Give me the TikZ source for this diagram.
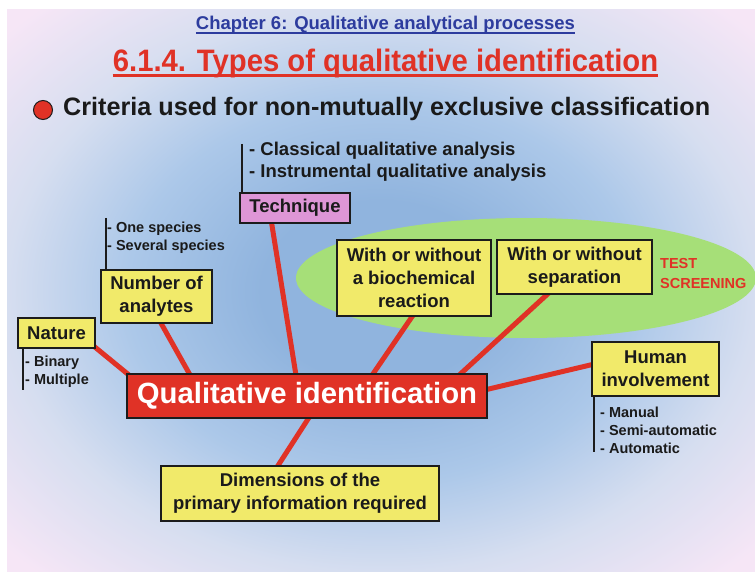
\documentclass[tikz,border=0pt]{standalone}
\usepackage{fontspec}
\setmainfont{Liberation Sans}
\usetikzlibrary{calc}
\definecolor{bgA}{RGB}{144,180,222}
\definecolor{bgB}{RGB}{172,200,233}
\definecolor{bgC}{RGB}{214,222,240}
\definecolor{bgD}{RGB}{246,230,246}
\definecolor{boxyellow}{RGB}{241,234,106}
\definecolor{boxpink}{RGB}{222,150,214}
\definecolor{qred}{RGB}{224,50,38}
\definecolor{ellgreen}{RGB}{166,223,120}
\definecolor{hblue}{RGB}{45,60,158}
\definecolor{txt}{RGB}{26,26,26}
\definecolor{boxline}{RGB}{28,28,28}
\pgfdeclareradialshading{slidebg}{\pgfpoint{0bp}{0bp}}{color(0bp)=(bgA); color(8bp)=(bgA); color(17bp)=(bgB); color(25bp)=(bgC); color(34bp)=(bgD); color(50bp)=(bgD)}
\pgfdeclarelayer{bg}
\pgfdeclarelayer{lines}
\pgfsetlayers{bg,lines,main}
\tikzset{
  box/.style={draw=boxline, line width=2.6pt, fill=boxyellow, text=txt,
    font=\fontsize{18.5}{23}\selectfont\bfseries, align=center, inner sep=0pt},
  conn/.style={draw=qred, line width=5pt},
  listtxt/.style={text=txt, font=\fontsize{14.5}{18}\selectfont\bfseries, inner sep=0pt, anchor=base west},
  biglist/.style={text=txt, font=\fontsize{18.5}{22}\selectfont\bfseries, inner sep=0pt, anchor=base west},
  bar/.style={draw=boxline, line width=2pt},
}
\begin{document}
\begin{tikzpicture}[x=1pt,y=-1pt]
\useasboundingbox (0,0) rectangle (755,572);
\begin{pgfonlayer}{bg}
  \shade[shading=slidebg] (7,10) rectangle (755,572);
  \fill[ellgreen] (526,278) ellipse [x radius=230, y radius=60];
\end{pgfonlayer}

% header
\node[font=\fontsize{18.5}{22}\selectfont\bfseries, text=hblue, inner sep=0pt, anchor=base] (chap) at (385.5,30) {Chapter 6: Qualitative analytical processes};
\draw[hblue, line width=2pt] ([yshift=-3pt]chap.base west) -- ([yshift=-3pt]chap.base east);
\node[font=\fontsize{31}{36}\selectfont\bfseries, text=qred, inner sep=0pt, anchor=base] (title) at (385.5,72) {\scalebox{0.944}[1]{6.1.4. Types of qualitative identification}};
\draw[qred, line width=3pt] ([yshift=-3.5pt]title.base west) -- ([yshift=-3.5pt]title.base east);
\node[circle, fill=qred, draw=boxline, line width=1pt, minimum size=19pt, inner sep=0pt] (bullet) at (43,110) {};
\node[font=\fontsize{25.2}{30}\selectfont\bfseries, text=txt, inner sep=0pt, anchor=base west] (crit) at (63,116) {Criteria used for non-mutually exclusive classification};

% boxes
\node[box, fill=boxpink, minimum width=110pt, minimum height=30pt] (tech) at (295,208) {Technique};
\node[box, minimum width=111pt, minimum height=53pt] (num) at (156.5,296.5) {Number of\\analytes};
\node[box, minimum width=77pt, minimum height=30pt] (nature) at (56.5,333) {Nature};
\node[box, fill=qred, text=white, font=\fontsize{29.3}{34}\selectfont\bfseries, minimum width=360pt, minimum height=44pt] (qual) at (307,396) {Qualitative identification};
\node[box, minimum width=154pt, minimum height=76pt] (bio) at (414,278) {With or without\\a biochemical\\reaction};
\node[box, minimum width=155pt, minimum height=54pt] (sep) at (574.5,267) {With or without\\separation};
\node[box, minimum width=127pt, minimum height=54pt] (human) at (655.5,369) {Human\\involvement};
\node[box, minimum width=278pt, minimum height=55pt] (dim) at (300,493.5) {Dimensions of the\\primary information required};

% connectors
\begin{pgfonlayer}{lines}
  \draw[conn] ($(nature.south east)+(-6,-6)$) -- ($(qual.north west)+(9,7)$);
  \draw[conn] ($(num.south west)+(58,-7)$) -- ($(qual.north west)+(67,7)$);
  \draw[conn] ($(tech.south west)+(32,-7)$) -- ($(qual.north west)+(171,7)$);
  \draw[conn] ($(bio.south west)+(80,-6)$) -- ($(qual.north west)+(244,6)$);
  \draw[conn] ($(sep.south west)+(56,-5)$) -- ($(qual.north east)+(-32,5)$);
  \draw[conn] ($(human.west)+(8,-6)$) -- ($(qual.east)+(-8,-5)$);
  \draw[conn] ($(dim.north west)+(115,6)$) -- ($(qual.south west)+(186,-6)$);
\end{pgfonlayer}

% lists
\coordinate (techtop) at (242,144);
\draw[bar] (techtop) -- (techtop |- tech.north);
\node[biglist] (t1) at (249,156) {- Classical qualitative analysis};
\node[biglist] (t2) at (249,178) {- Instrumental qualitative analysis};

\coordinate (numtop) at (106,218);
\draw[bar] (numtop) -- (numtop |- num.north);
\node[listtxt] (n1) at (107,233) {- One species};
\node[listtxt] (n2) at (107,251) {- Several species};

\coordinate (natbot) at (23,390);
\draw[bar] (natbot |- nature.south) -- (natbot);
\node[listtxt] (b1) at (25,366) {- Binary};
\node[listtxt] (b2) at (25,384) {- Multiple};

\coordinate (humbot) at (594,452);
\draw[bar] (humbot |- human.south) -- (humbot);
\node[listtxt] (h1) at (600,417) {- Manual};
\node[listtxt] (h2) at (600,435) {- Semi-automatic};
\node[listtxt] (h3) at (600,453) {- Automatic};

\node[listtxt, text=qred] (test1) at (660,269) {TEST};
\node[listtxt, text=qred] (test2) at (660,288) {SCREENING};
\end{tikzpicture}
\end{document}
